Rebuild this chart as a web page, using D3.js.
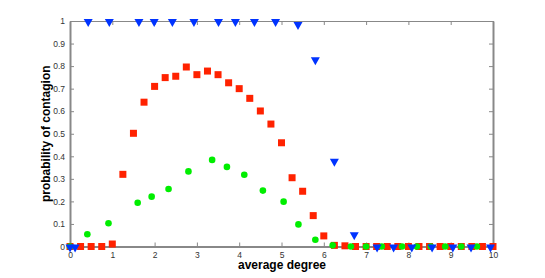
<!DOCTYPE html>
<html>
<head>
<meta charset="utf-8">
<style>
  body { margin: 0; background: #fff; }
  .tick text { font: 8.5px "Liberation Sans", Arial, sans-serif; fill: #333; }
  .title { font: bold 12px "Liberation Sans", Arial, sans-serif; fill: #000; }
</style>
</head>
<body>
<script src="https://d3js.org/d3.v7.min.js"></script>
<script>
// red squares
var redX = [0, 0.25, 0.5, 0.75, 1, 1.25, 1.5, 1.75, 2, 2.25, 2.5, 2.75, 3, 3.25, 3.5, 3.75,
            4, 4.25, 4.5, 4.75, 5, 5.25, 5.5, 5.75, 6, 6.25, 6.5, 6.75, 7, 7.25, 7.5, 7.75,
            8, 8.25, 8.5, 8.75, 9, 9.25, 9.5, 9.75, 10];
var redY = [0, 0, 0, 0, 0.011, 0.32, 0.502, 0.64, 0.71, 0.749, 0.755, 0.796, 0.762, 0.778, 0.762, 0.726,
            0.70, 0.657, 0.601, 0.543, 0.46, 0.305, 0.245, 0.137, 0.047, 0.005, 0.003, 0, 0, 0, 0, 0,
            0, 0, 0, 0, 0, 0, 0, 0, 0];

// green circles
var greenX = [0, 0.41, 0.91, 1.6, 1.93, 2.33, 2.8, 3.36, 3.71, 4.12, 4.56, 5.05, 5.4, 5.8,
              6.21, 6.64, 7.0, 7.37, 7.85, 8.2, 8.53, 8.87, 9.25, 9.62];
var greenY = [0, 0.054, 0.103, 0.194, 0.221, 0.255, 0.333, 0.384, 0.353, 0.318, 0.248, 0.199, 0.098, 0.03,
              0.005, 0, 0, 0, 0, 0, 0, 0, 0, 0];

// blue triangles
var blueX = [0, 0.12, 0.43, 0.93, 1.63, 1.99, 2.42, 2.93, 3.51, 3.91, 4.36, 4.86, 5.39, 5.8,
             6.25, 6.72, 7.26, 7.65, 8.08, 8.56, 9.05, 9.48, 9.94];
var blueY = [0, 0, 1, 1, 1, 1, 1, 1, 1, 1, 1, 1, 0.987, 0.83,
             0.38, 0.054, 0, 0, 0, 0, 0, 0, 0];

var xTicks = [0, 1, 2, 3, 4, 5, 6, 7, 8, 9, 10];
var yTicks = [0, 0.1, 0.2, 0.3, 0.4, 0.5, 0.6, 0.7, 0.8, 0.9, 1];

var width = 545, height = 278;
var plotL = 70, plotR = 493, plotT = 21, plotB = 246.5;

var x = d3.scaleLinear().domain([0, 10]).range([plotL, plotR]);
var y = d3.scaleLinear().domain([0, 1]).range([plotB, plotT]);

var svg = d3.select("body").append("svg")
    .attr("width", width)
    .attr("height", height);

var axisColor = "#888";

// box with inward ticks on every side
var gx = svg.append("g").attr("transform", "translate(0," + plotB + ")")
    .call(d3.axisBottom(x).tickValues(xTicks).tickFormat(d3.format("d")).tickSizeInner(-4).tickSizeOuter(0).tickPadding(5));
var gy = svg.append("g").attr("transform", "translate(" + plotL + ",0)")
    .call(d3.axisLeft(y).tickValues(yTicks).tickFormat(function(d) { return d === 0 || d === 1 ? d : d3.format(".1f")(d); })
          .tickSizeInner(-4).tickSizeOuter(0).tickPadding(5));
var gt = svg.append("g").attr("transform", "translate(0," + plotT + ")")
    .call(d3.axisTop(x).tickValues(xTicks).tickFormat("").tickSizeInner(-4).tickSizeOuter(0));
var gr = svg.append("g").attr("transform", "translate(" + plotR + ",0)")
    .call(d3.axisRight(y).tickValues(yTicks).tickFormat("").tickSizeInner(-4).tickSizeOuter(0));

[gx, gy, gt, gr].forEach(function(g) {
    g.selectAll("path.domain").attr("stroke", axisColor).attr("stroke-width", 2);
    g.selectAll(".tick line").attr("stroke", axisColor).attr("stroke-width", 1);
});
gt.selectAll("path.domain").attr("stroke-width", 1);

// red squares
svg.append("g").selectAll("rect")
    .data(redX.map(function(v, i) { return [v, redY[i]]; }))
    .enter().append("rect")
    .attr("x", function(d) { return x(d[0]) - 3.5; })
    .attr("y", function(d) { return y(d[1]) - 3.5; })
    .attr("width", 7).attr("height", 7)
    .attr("fill", "#ff2200");

// green circles
svg.append("g").selectAll("circle")
    .data(greenX.map(function(v, i) { return [v, greenY[i]]; }))
    .enter().append("circle")
    .attr("cx", function(d) { return x(d[0]); })
    .attr("cy", function(d) { return y(d[1]); })
    .attr("r", 3.3)
    .attr("fill", "#00ee00");

// blue down triangles
svg.append("g").selectAll("path")
    .data(blueX.map(function(v, i) { return [v, blueY[i]]; }))
    .enter().append("path")
    .attr("d", "M-4.5,-3L4.5,-3L0,5Z")
    .attr("transform", function(d) { return "translate(" + x(d[0]) + "," + (y(d[1]) + 1) + ")"; })
    .attr("fill", "#0033ff");

svg.append("text")
    .attr("class", "title")
    .attr("transform", "translate(50," + ((plotT + plotB) / 2) + ") rotate(-90)")
    .attr("text-anchor", "middle")
    .text("probability of contagion");

svg.append("text")
    .attr("class", "title")
    .attr("x", 282)
    .attr("y", 269)
    .attr("text-anchor", "middle")
    .text("average degree");
</script>
</body>
</html>
